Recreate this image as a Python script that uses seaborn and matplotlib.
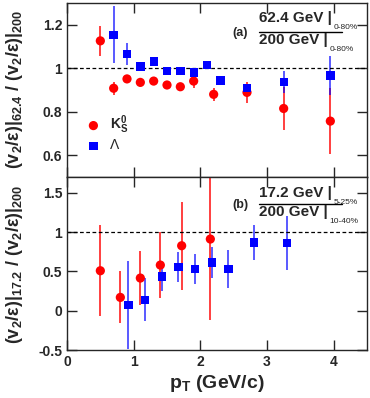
import matplotlib
matplotlib.use("Agg")
import matplotlib.pyplot as plt
import seaborn as sns
from matplotlib.ticker import FuncFormatter

# panel (a): 62.4 GeV / 200 GeV, 0-80%
pt_k_a = [0.5, 0.7, 0.9, 1.1, 1.3, 1.5, 1.7, 1.9, 2.2, 2.7, 3.25, 3.95]
r_k_a = [1.126, 0.908, 0.951, 0.935, 0.941, 0.923, 0.915, 0.941, 0.880, 0.889, 0.815, 0.757]
e_k_a = [0.07, 0.03, 0.012, 0.012, 0.012, 0.012, 0.015, 0.03, 0.03, 0.05, 0.10, 0.15]

pt_l_a = [0.7, 0.9, 1.1, 1.3, 1.5, 1.7, 1.9, 2.1, 2.3, 2.7, 3.25, 3.95]
r_l_a = [1.154, 1.066, 1.008, 1.031, 0.988, 0.988, 0.980, 1.015, 0.943, 0.908, 0.938, 0.966]
e_l_a = [0.13, 0.05, 0.02, 0.012, 0.01, 0.01, 0.012, 0.01, 0.02, 0.02, 0.05, 0.09]

# panel (b): 17.2 GeV / 200 GeV
pt_k_b = [0.5, 0.8, 1.1, 1.4, 1.72, 2.15]
r_k_b = [0.508, 0.169, 0.415, 0.58, 0.826, 0.911]
e_k_b = [0.58, 0.33, 0.34, 0.42, 0.56, 1.03]

pt_l_b = [0.92, 1.17, 1.42, 1.67, 1.92, 2.17, 2.42, 2.8, 3.3]
r_l_b = [0.076, 0.14, 0.436, 0.555, 0.534, 0.614, 0.534, 0.868, 0.86]
e_l_b = [0.56, 0.27, 0.18, 0.19, 0.19, 0.2, 0.24, 0.22, 0.34]

x_ticks = [0, 1, 2, 3, 4]
y_ticks_a = [0.6, 0.8, 1.0, 1.2]
y_ticks_b = [-0.5, 0, 0.5, 1.0, 1.5]

sns.set_style("ticks")
plt.rcParams['font.family'] = ['Liberation Sans', 'DejaVu Sans']
plt.rcParams['font.weight'] = 'bold'
plt.rcParams['axes.labelweight'] = 'bold'
plt.rcParams['mathtext.fontset'] = 'custom'
plt.rcParams['mathtext.rm'] = 'Liberation Sans'
plt.rcParams['mathtext.bf'] = 'Liberation Sans:bold'
plt.rcParams['mathtext.it'] = 'Liberation Sans:italic'
plt.rcParams['mathtext.default'] = 'bf'

W, H = 370, 398
fig = plt.figure(figsize=(W / 100, H / 100), dpi=100)
ax_a = fig.add_axes([67 / W, 1 - 177 / H, 300 / W, 174 / H])
ax_b = fig.add_axes([67 / W, 1 - 350 / H, 300 / W, 173 / H])

fmt = FuncFormatter(lambda v, p: '%g' % v)


def draw(ax, xk, yk, ek, xl, yl, el, legend):
    ax.errorbar(xk, yk, yerr=ek, fmt='none', ecolor='red', elinewidth=1.4, alpha=0.75, capsize=0)
    ax.errorbar(xl, yl, yerr=el, fmt='none', ecolor='blue', elinewidth=1.4, alpha=0.65, capsize=0)
    sns.scatterplot(x=xk, y=yk, ax=ax, color='red', marker='o', s=44, edgecolor='none',
                    label='$\\mathrm{K^{0}_{S}}$' if legend else None, legend=legend, zorder=3)
    sns.scatterplot(x=xl, y=yl, ax=ax, color='blue', marker='s', s=36, edgecolor='none',
                    label='Λ' if legend else None, legend=legend, zorder=3)
    ax.axhline(1.0, color='black', ls='--', lw=0.9, dashes=(3, 2))
    ax.set_xlim(0, 4.5)
    ax.set_xticks(x_ticks)
    ax.tick_params(direction='in', length=7, width=1, top=True, right=True, labelsize=10)
    ax.yaxis.set_major_formatter(fmt)
    for s in ax.spines.values():
        s.set_linewidth(1)


draw(ax_a, pt_k_a, r_k_a, e_k_a, pt_l_a, r_l_a, e_l_a, True)
draw(ax_b, pt_k_b, r_k_b, e_k_b, pt_l_b, r_l_b, e_l_b, False)

ax_a.set_ylim(0.5, 1.3)
ax_a.set_yticks(y_ticks_a)
ax_a.set_xticklabels([])
ax_b.set_ylim(-0.5, 1.7)
ax_b.set_yticks(y_ticks_b)
ax_b.xaxis.set_major_formatter(fmt)
ax_b.set_xlabel('p$_{T}$ (GeV/c)', fontsize=14, fontweight='bold', labelpad=3)

leg = ax_a.legend(loc='lower left', bbox_to_anchor=(0.0, 0.07), frameon=False,
                  handletextpad=0.2, labelspacing=0.15, prop={'weight': 'normal', 'size': 10})


# ratio labels
def ratio(ax, tag, num, sub_n, den, sub_d, ys):
    ax.text(0.577, ys[0], tag, transform=ax.transAxes, fontsize=9, ha='center', va='center')
    tn = ax.text(0.64, ys[1], num, transform=ax.transAxes, fontsize=11, va='center')
    ax.annotate(sub_n, xy=(1, 0), xycoords=tn, xytext=(1, -2), textcoords='offset points',
                fontsize=6, va='center', weight='normal')
    ax.plot([0.64, 0.917], [ys[2], ys[2]], transform=ax.transAxes, color='black', lw=1)
    td = ax.text(0.64, ys[3], den, transform=ax.transAxes, fontsize=11, va='center')
    ax.annotate(sub_d, xy=(1, 0), xycoords=td, xytext=(1, -2), textcoords='offset points',
                fontsize=6, va='center', weight='normal')


ratio(ax_a, '(a)', '62.4 GeV |', '0-80%', '200 GeV |', '0-80%',
      [0.828, 0.914, 0.833, 0.787])
ratio(ax_b, '(b)', '17.2 GeV |', '5-25%', '200 GeV |', '10-40%',
      [0.838, 0.907, 0.844, 0.798])

fig.text(15 / W, 1 - 89 / H, '(v$_{2}$/ε)|$_{62.4}$ / (v$_{2}$/ε)|$_{200}$',
         rotation=90, ha='center', va='center', fontsize=13)
fig.text(15 / W, 1 - 264 / H, '(v$_{2}$/ε)|$_{17.2}$ / (v$_{2}$/ε)|$_{200}$',
         rotation=90, ha='center', va='center', fontsize=13)

fig.savefig('out.png', dpi=100)
